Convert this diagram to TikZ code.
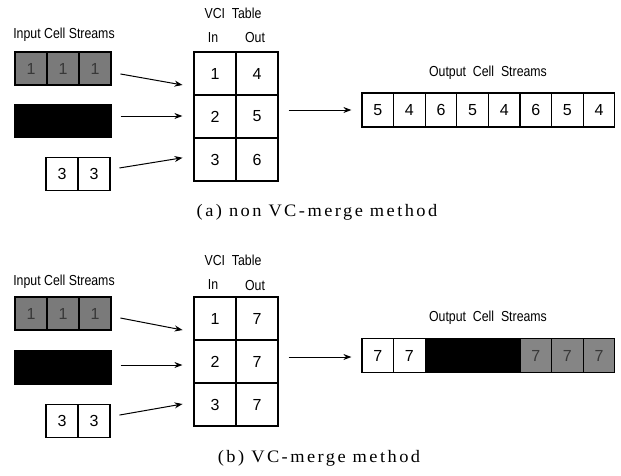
\documentclass[tikz,border=0pt]{standalone}
\usepackage{fontspec}
\setmainfont{Liberation Serif}
\newfontfamily\condsans[FakeStretch=0.85]{Liberation Sans}
\newfontfamily\numsans{Liberation Sans}
\newfontfamily\capserif[LetterSpace=14,FakeStretch=1.05]{Liberation Serif}
\usetikzlibrary{arrows.meta}
\tikzset{
  cell/.style={draw=black, line width=1.2pt, minimum width=32pt, minimum height=33pt, inner sep=0pt,
    font=\numsans\fontsize{16}{16}\selectfont},
  graycell/.style={cell, fill=black!52, text=black!78},
  blackcell/.style={cell, fill=black},
  ocell/.style={cell, minimum width=31.6pt, minimum height=34pt},
  tcell/.style={draw=black, line width=1.2pt, minimum width=42pt, minimum height=43pt, inner sep=0pt,
    font=\numsans\fontsize{16}{16}\selectfont},
  lab/.style={font=\condsans\fontsize{14.5}{14.5}\selectfont, inner sep=0pt},
  captext/.style={font=\capserif\fontsize{17.5}{17.5}\selectfont, inner sep=0pt},
  arr/.style={line width=1pt, -{Stealth[length=8pt,width=6pt]}, shorten <=9pt, shorten >=11pt},
  oarr/.style={line width=1pt, -{Stealth[length=8pt,width=6pt]}, shorten <=10pt, shorten >=10pt}
}
\begin{document}
\begin{tikzpicture}[x=1pt,y=-1pt]
\useasboundingbox[fill=white] (0,0) rectangle (621,475);

% ================= (a) =================
\node[lab] (ina) at (64,35) {Input Cell Streams};
\node[graycell] (ga1) at (31,68.5) {1};
\node[graycell] (ga2) at (63,68.5) {1};
\node[graycell] (ga3) at (95,68.5) {1};
\node[blackcell] (ba1) at (31,121) {};
\node[blackcell] (ba2) at (63,121) {};
\node[blackcell] (ba3) at (95,121) {};
\node[cell] (wa1) at (62,174) {3};
\node[cell] (wa2) at (94,174) {3};

\node[lab] (vcia) at (233,13) {VCI\ \ Table};
\node[lab] (inla) at (213,38) {In};
\node[lab] (outla) at (255,38) {Out};
\node[tcell] (ta11) at (215,73.5) {1};
\node[tcell] (ta12) at (257,73.5) {4};
\node[tcell] (ta21) at (215,116.5) {2};
\node[tcell] (ta22) at (257,116.5) {5};
\node[tcell] (ta31) at (215,159.5) {3};
\node[tcell] (ta32) at (257,159.5) {6};

\draw[arr] ([yshift=-3.9pt]ga3.east) -- ([yshift=-13.4pt]ta11.west);
\draw[arr] ([yshift=5pt]ba3.east) -- ([yshift=0.5pt]ta21.west);
\draw[arr] ([yshift=4.6pt]wa2.east) -- ([yshift=3.5pt]ta31.west);

\node[lab] (outa) at (488,73) {Output\ \ Cell\ \ Streams};
\foreach \v [count=\i from 0] in {5,4,6,5,4,6,5,4} {
  \node[ocell] (oa\i) at ({377.8+31.6*\i},110) {\v};
}
\draw[oarr] ([yshift=6.5pt]ta22.east) -- (oa0.west);

\node[captext] (capa) at (317,212) {(a) non VC-merge method};

% ================= (b) =================
\node[lab] (inb) at (64,282) {Input Cell Streams};
\node[graycell] (gb1) at (31,313.5) {1};
\node[graycell] (gb2) at (63,313.5) {1};
\node[graycell] (gb3) at (95,313.5) {1};
\node[blackcell] (bb1) at (31,367.5) {};
\node[blackcell] (bb2) at (63,367.5) {};
\node[blackcell] (bb3) at (95,367.5) {};
\node[cell] (wb1) at (62,421) {3};
\node[cell] (wb2) at (94,421) {3};

\node[lab] (vcib) at (233,260) {VCI\ \ Table};
\node[lab] (inlb) at (213,285) {In};
\node[lab] (outlb) at (255,285) {Out};
\node[tcell] (tb11) at (215,318.5) {1};
\node[tcell] (tb12) at (257,318.5) {7};
\node[tcell] (tb21) at (215,361.5) {2};
\node[tcell] (tb22) at (257,361.5) {7};
\node[tcell] (tb31) at (215,404.5) {3};
\node[tcell] (tb32) at (257,404.5) {7};

\draw[arr] ([yshift=-2.8pt]gb3.east) -- ([yshift=-13.6pt]tb11.west);
\draw[arr] ([yshift=2.5pt]bb3.east) -- ([yshift=-3.5pt]tb21.west);
\draw[arr] ([yshift=4.4pt]wb2.east) -- ([yshift=2.4pt]tb31.west);

\node[lab] (outb) at (488,318) {Output\ \ Cell\ \ Streams};
\node[ocell] (ob0) at (377.8,355.5) {7};
\node[ocell] (ob1) at (409.4,355.5) {7};
\node[ocell, fill=black] (ob2) at (441.0,355.5) {};
\node[ocell, fill=black] (ob3) at (472.6,355.5) {};
\node[ocell, fill=black] (ob4) at (504.2,355.5) {};
\node[ocell, fill=black!48, text=black!78] (ob5) at (535.8,355.5) {7};
\node[ocell, fill=black!48, text=black!78] (ob6) at (567.4,355.5) {7};
\node[ocell, fill=black!48, text=black!78] (ob7) at (599.0,355.5) {7};
\draw[oarr] ([yshift=4.5pt]tb22.east) -- ([yshift=-1.5pt]ob0.west);

\node[captext] (capb) at (319,458) {(b) VC-merge method};
\end{tikzpicture}
\end{document}
